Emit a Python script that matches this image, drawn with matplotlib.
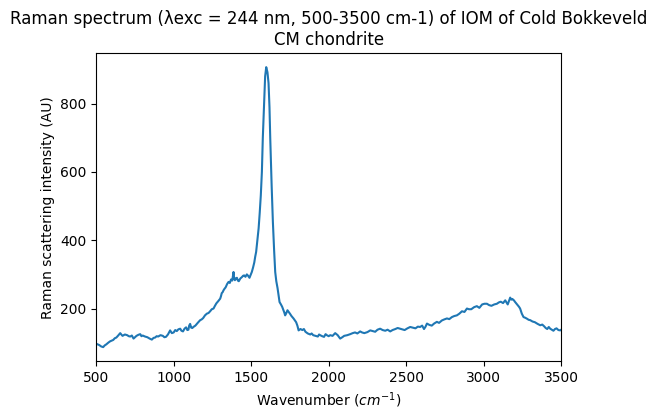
import matplotlib
matplotlib.use("Agg")
import matplotlib.pyplot as plt

wavenumber = [
    500, 510, 520, 532, 545, 555, 565, 578, 590, 600,
    610, 620, 630, 642, 655, 662, 670, 685, 700, 710,
    720, 730, 741, 750, 760, 772, 784, 792, 800, 815,
    830, 845, 859, 870, 880, 890, 900, 915, 930, 940,
    950, 963, 977, 988, 1000, 1010, 1020, 1030, 1042, 1050,
    1060, 1070, 1080, 1088, 1095, 1100, 1106, 1113, 1120, 1130,
    1140, 1155, 1171, 1180, 1190, 1202, 1214, 1225, 1235, 1246,
    1257, 1265, 1275, 1288, 1300, 1305, 1310, 1316, 1321, 1328,
    1335, 1345, 1354, 1362, 1370, 1378, 1386, 1390, 1395, 1402,
    1408, 1414, 1420, 1430, 1440, 1448, 1455, 1463, 1472, 1480,
    1489, 1496, 1504, 1512, 1520, 1526, 1532, 1540, 1548, 1555,
    1562, 1569, 1575, 1583, 1590, 1597, 1605, 1612, 1618, 1623,
    1632, 1640, 1648, 1655, 1662, 1670, 1676, 1683, 1692, 1700,
    1708, 1714, 1719, 1726, 1734, 1742, 1750, 1760, 1773, 1782,
    1790, 1798, 1806, 1818, 1830, 1840, 1850, 1865, 1881, 1890,
    1900, 1915, 1930, 1938, 1945, 1958, 1970, 1980, 1988, 2000,
    2010, 2025, 2042, 2058, 2074, 2088, 2100, 2120, 2139, 2155,
    2170, 2185, 2203, 2215, 2230, 2250, 2268, 2285, 2300, 2315,
    2332, 2348, 2365, 2380, 2397, 2412, 2430, 2445, 2461, 2475,
    2490, 2508, 2526, 2543, 2560, 2575, 2590, 2603, 2615, 2625,
    2634, 2650, 2665, 2680, 2698, 2712, 2730, 2745, 2763, 2778,
    2795, 2810, 2827, 2843, 2860, 2876, 2892, 2905, 2920, 2938,
    2956, 2972, 2990, 3005, 3021, 3035, 3050, 3068, 3085, 3098,
    3110, 3125, 3139, 3147, 3155, 3163, 3171, 3178, 3185, 3195,
    3203, 3212, 3220, 3228, 3235, 3246, 3257, 3268, 3280, 3290,
    3300, 3315, 3330, 3348, 3365, 3378, 3390, 3400, 3410, 3420,
    3429, 3440, 3450, 3460, 3470, 3482, 3494, 3500,
]
intensity = [
    97, 95, 93, 89, 87, 92, 95, 100, 104, 106,
    108, 113, 115, 121, 128, 124, 120, 124, 122, 119,
    118, 121, 112, 116, 120, 123, 125, 119, 121, 118,
    116, 112, 109, 114, 115, 119, 118, 122, 120, 116,
    117, 124, 136, 128, 130, 137, 134, 139, 141, 135,
    133, 141, 145, 137, 138, 150, 155, 144, 143, 147,
    150, 158, 166, 168, 172, 180, 185, 187, 192, 198,
    200, 207, 215, 222, 229, 236, 245, 248, 253, 258,
    262, 272, 278, 275, 285, 282, 307, 288, 283, 289,
    290, 282, 280, 288, 292, 296, 297, 293, 300, 296,
    290, 298, 307, 320, 335, 352, 366, 400, 435, 480,
    531, 600, 700, 800, 880, 907, 892, 860, 790, 698,
    560, 453, 370, 307, 280, 260, 240, 219, 212, 205,
    195, 188, 180, 186, 195, 190, 185, 178, 171, 165,
    160, 150, 136, 140, 137, 140, 132, 127, 124, 127,
    122, 120, 118, 124, 122, 119, 117, 125, 122, 119,
    122, 120, 128, 122, 112, 116, 120, 122, 125, 128,
    130, 127, 133, 130, 128, 131, 136, 134, 132, 138,
    141, 137, 135, 138, 133, 137, 140, 143, 141, 139,
    137, 142, 146, 144, 142, 147, 146, 150, 140, 147,
    156, 152, 150, 156, 161, 158, 165, 168, 171, 169,
    175, 178, 180, 185, 192, 190, 200, 198, 198, 204,
    207, 202, 212, 214, 214, 210, 208, 212, 214, 218,
    220, 216, 224, 218, 212, 222, 232, 226, 228, 224,
    219, 214, 210, 205, 200, 185, 175, 173, 170, 167,
    166, 162, 160, 155, 151, 153, 148, 143, 140, 146,
    141, 138, 135, 140, 142, 137, 136, 138,
]

title = "Raman spectrum (\u03bbexc = 244 nm, 500-3500 cm-1) of IOM of Cold Bokkeveld\nCM chondrite"

fig, ax = plt.subplots(figsize=(6, 4), dpi=100)
ax.plot(wavenumber, intensity, color="#1f77b4", linewidth=1.5)
ax.set_xlim(500, 3500)
ax.set_xlabel("Wavenumber ($cm^{-1}$)")
ax.set_ylabel("Raman scattering intensity (AU)")
ax.set_title(title)
fig.savefig("out.png", dpi=100, bbox_inches="tight")
